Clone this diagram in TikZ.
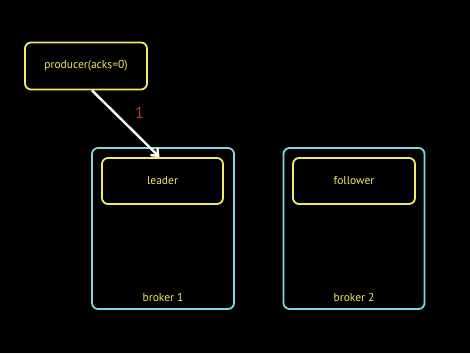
\documentclass[tikz,border=0pt]{standalone}
\usepackage{fontspec}
\setmainfont{PT Sans}
\usetikzlibrary{arrows.meta}
\definecolor{ylw}{HTML}{F2E86A}
\definecolor{cyn}{HTML}{7ED9E2}
\definecolor{redl}{HTML}{C8362E}
\begin{document}
\begin{tikzpicture}[x=1pt,y=1pt,
  ybox/.style={draw=ylw,line width=1.8pt,rounded corners=6pt,text=ylw,font=\fontsize{11.5}{13}\selectfont,inner sep=0pt,anchor=center},
  cbox/.style={draw=cyn,line width=1.8pt,rounded corners=6pt,inner sep=0pt,anchor=center},
  lbl/.style={text=ylw,font=\fontsize{11.5}{13}\selectfont},
  arr/.style={draw=white,line width=2.4pt,-{Straight Barb[length=6pt,width=10pt]}}]
\fill[black] (0,0) rectangle (470,353);
\useasboundingbox (0,0) rectangle (470,353);
\node[ybox,minimum width=122pt,minimum height=47pt] (producer) at (86,287) {producer(acks=0)};
\node[cbox,minimum width=142pt,minimum height=161pt] (broker1) at (163,124.5) {};
\node[cbox,minimum width=141pt,minimum height=161pt] (broker2) at (354,124.5) {};
\node[ybox,minimum width=121pt,minimum height=46pt] (leader) at (162.5,172) {leader};
\node[ybox,minimum width=122pt,minimum height=46pt] (follower) at (354,172) {follower};
\node[lbl] (b1) at (163,56) {broker 1};
\node[lbl] (b2) at (354,56) {broker 2};
\coordinate (pstart) at ([xshift=6pt]producer.south);
\coordinate (lend) at ([xshift=-3pt]leader.north);
\draw[arr] (pstart) -- (lend);
\node[text=redl,font=\fontsize{16}{18}\selectfont] (one) at (139.5,240) {1};
\end{tikzpicture}
\end{document}
